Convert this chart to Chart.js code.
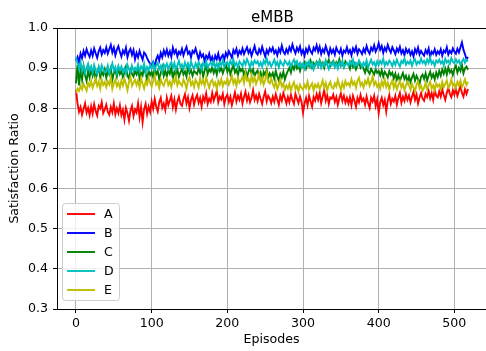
<!DOCTYPE html>
<html><head><meta charset="utf-8">
<script src="https://cdn.jsdelivr.net/npm/chart.js@4"></script>
<style>html,body{margin:0;padding:0;background:#fff;overflow:hidden}#wrap{width:486px;height:351px;position:relative}</style>
</head><body><div id="wrap"><canvas id="c" width="486" height="351"></canvas></div>
<script>
const seriesNames = ['A','B','C','D','E'];
const episodeStep = 2; // one sample every 2 episodes (0..518)
const xTicks = [0,100,200,300,400,500];
const yTicks = [0.3,0.4,0.5,0.6,0.7,0.8,0.9,1.0];
const chartTitle = 'eMBB';
const xLabel = 'Episodes';
const yLabel = 'Satisfaction Ratio';

const A = [
0.845,0.812,0.791,0.803,0.784,0.798,0.812,0.789,0.801,0.783,
0.805,0.787,0.810,0.793,0.782,0.806,0.799,0.815,0.788,0.797,
0.809,0.791,0.784,0.803,0.790,0.812,0.785,0.800,0.788,0.807,
0.783,0.796,0.772,0.801,0.788,0.769,0.794,0.806,0.781,0.797,
0.789,0.812,0.778,0.803,0.766,0.798,0.811,0.786,0.804,0.791,
0.817,0.799,0.823,0.804,0.792,0.815,0.826,0.801,0.812,0.796,
0.826,0.808,0.819,0.831,0.803,0.822,0.797,0.817,0.829,0.811,
0.806,0.823,0.835,0.812,0.827,0.801,0.821,0.832,0.809,0.824,
0.833,0.814,0.826,0.805,0.829,0.818,0.837,0.811,0.824,0.816,
0.838,0.819,0.831,0.843,0.815,0.829,0.822,0.836,0.811,0.827,
0.834,0.816,0.829,0.808,0.823,0.839,0.817,0.831,0.821,0.836,
0.812,0.828,0.841,0.819,0.833,0.815,0.826,0.845,0.821,0.832,
0.818,0.836,0.823,0.811,0.829,0.842,0.817,0.831,0.824,0.813,
0.829,0.816,0.835,0.822,0.809,0.831,0.819,0.838,0.826,0.812,
0.828,0.815,0.834,0.821,0.811,0.836,0.824,0.813,0.829,0.817,
0.789,0.812,0.826,0.808,0.831,0.817,0.804,0.828,0.819,0.835,
0.821,0.838,0.813,0.829,0.846,0.819,0.832,0.811,0.827,0.824,
0.834,0.816,0.828,0.809,0.825,0.837,0.818,0.831,0.814,0.826,
0.812,0.827,0.808,0.831,0.819,0.804,0.826,0.815,0.833,0.818,
0.824,0.809,0.829,0.813,0.801,0.826,0.817,0.831,0.806,0.822,
0.788,0.815,0.826,0.808,0.821,0.792,0.819,0.833,0.811,0.824,
0.817,0.831,0.809,0.826,0.838,0.814,0.829,0.818,0.835,0.821,
0.832,0.815,0.829,0.841,0.821,0.834,0.812,0.827,0.838,0.824,
0.819,0.836,0.828,0.843,0.825,0.838,0.821,0.846,0.831,0.827,
0.842,0.829,0.847,0.833,0.821,0.839,0.851,0.836,0.828,0.845,
0.834,0.849,0.831,0.843,0.856,0.838,0.829,0.847,0.836,0.848];
const B = [
0.919,0.928,0.914,0.936,0.925,0.943,0.931,0.947,0.936,0.928,
0.944,0.931,0.949,0.937,0.926,0.942,0.951,0.934,0.945,0.938,
0.952,0.936,0.947,0.958,0.939,0.951,0.932,0.946,0.955,0.941,
0.929,0.944,0.936,0.951,0.927,0.941,0.948,0.933,0.945,0.922,
0.938,0.927,0.943,0.931,0.921,0.939,0.934,0.925,0.917,0.911,
0.906,0.915,0.903,0.922,0.931,0.919,0.938,0.927,0.944,0.933,
0.946,0.931,0.942,0.928,0.951,0.937,0.945,0.929,0.941,0.935,
0.948,0.932,0.944,0.953,0.936,0.941,0.927,0.943,0.938,0.949,
0.935,0.922,0.939,0.928,0.934,0.917,0.931,0.924,0.936,0.919,
0.928,0.914,0.931,0.922,0.936,0.918,0.927,0.933,0.921,0.938,
0.929,0.942,0.934,0.926,0.945,0.937,0.948,0.931,0.943,0.936,
0.949,0.935,0.944,0.952,0.938,0.946,0.931,0.943,0.955,0.939,
0.934,0.947,0.938,0.953,0.941,0.929,0.945,0.936,0.949,0.942,
0.951,0.937,0.944,0.932,0.948,0.939,0.956,0.941,0.935,0.947,
0.938,0.952,0.943,0.959,0.946,0.937,0.951,0.942,0.954,0.936,
0.945,0.931,0.948,0.939,0.953,0.942,0.936,0.951,0.944,0.957,
0.941,0.953,0.935,0.947,0.939,0.955,0.943,0.932,0.949,0.938,
0.946,0.934,0.951,0.942,0.937,0.948,0.931,0.944,0.939,0.952,
0.938,0.945,0.932,0.949,0.941,0.953,0.936,0.947,0.942,0.935,
0.948,0.939,0.955,0.943,0.936,0.951,0.944,0.957,0.941,0.949,
0.962,0.946,0.955,0.938,0.951,0.943,0.958,0.947,0.939,0.952,
0.944,0.935,0.949,0.941,0.953,0.937,0.945,0.932,0.948,0.939,
0.946,0.933,0.942,0.929,0.947,0.938,0.951,0.934,0.943,0.936,
0.931,0.945,0.937,0.949,0.928,0.941,0.936,0.947,0.933,0.942,
0.936,0.947,0.931,0.944,0.939,0.952,0.934,0.943,0.937,0.949,
0.941,0.936,0.948,0.939,0.952,0.964,0.946,0.935,0.922,0.928];
const C = [
0.862,0.908,0.857,0.896,0.871,0.904,0.882,0.868,0.893,0.877,
0.899,0.881,0.894,0.872,0.889,0.902,0.878,0.891,0.883,0.897,
0.876,0.892,0.884,0.899,0.871,0.888,0.895,0.879,0.901,0.885,
0.893,0.878,0.889,0.903,0.881,0.874,0.896,0.886,0.879,0.892,
0.884,0.898,0.875,0.889,0.882,0.901,0.887,0.871,0.894,0.883,
0.891,0.877,0.899,0.885,0.893,0.872,0.888,0.902,0.881,0.894,
0.879,0.895,0.886,0.902,0.874,0.891,0.883,0.897,0.878,0.889,
0.898,0.884,0.892,0.879,0.905,0.887,0.895,0.881,0.893,0.889,
0.885,0.899,0.888,0.903,0.879,0.894,0.907,0.886,0.897,0.891,
0.902,0.888,0.899,0.884,0.906,0.893,0.901,0.887,0.898,0.909,
0.891,0.903,0.885,0.897,0.908,0.889,0.896,0.882,0.901,0.893,
0.899,0.883,0.894,0.879,0.891,0.902,0.886,0.897,0.881,0.889,
0.894,0.878,0.889,0.872,0.891,0.883,0.896,0.875,0.887,0.879,
0.888,0.874,0.893,0.879,0.869,0.886,0.877,0.891,0.872,0.884,
0.893,0.901,0.889,0.906,0.897,0.911,0.899,0.906,0.893,0.908,
0.903,0.914,0.899,0.911,0.905,0.918,0.902,0.913,0.907,0.916,
0.906,0.919,0.908,0.914,0.901,0.917,0.911,0.921,0.905,0.913,
0.918,0.904,0.915,0.909,0.922,0.906,0.913,0.903,0.917,0.911,
0.909,0.898,0.914,0.903,0.911,0.897,0.906,0.915,0.901,0.908,
0.899,0.889,0.903,0.892,0.886,0.898,0.891,0.884,0.897,0.888,
0.893,0.882,0.895,0.879,0.891,0.885,0.877,0.892,0.883,0.889,
0.874,0.886,0.871,0.882,0.868,0.879,0.888,0.873,0.881,0.866,
0.879,0.865,0.877,0.886,0.869,0.881,0.872,0.861,0.878,0.884,
0.873,0.887,0.869,0.881,0.891,0.876,0.885,0.872,0.889,0.878,
0.893,0.881,0.897,0.886,0.899,0.884,0.902,0.889,0.895,0.883,
0.898,0.906,0.889,0.901,0.893,0.908,0.887,0.899,0.904,0.896];
const D = [
0.927,0.912,0.899,0.915,0.893,0.906,0.888,0.901,0.911,0.894,
0.903,0.889,0.908,0.895,0.886,0.902,0.891,0.907,0.897,0.889,
0.892,0.906,0.887,0.899,0.912,0.894,0.903,0.888,0.905,0.896,
0.904,0.891,0.899,0.886,0.908,0.897,0.889,0.906,0.893,0.901,
0.895,0.909,0.892,0.904,0.897,0.911,0.889,0.903,0.896,0.908,
0.899,0.912,0.895,0.907,0.913,0.898,0.906,0.891,0.909,0.902,
0.911,0.897,0.908,0.915,0.901,0.913,0.896,0.907,0.918,0.903,
0.909,0.898,0.914,0.903,0.911,0.897,0.916,0.905,0.899,0.912,
0.903,0.915,0.907,0.896,0.912,0.904,0.918,0.901,0.909,0.914,
0.906,0.917,0.902,0.911,0.899,0.914,0.907,0.919,0.903,0.912,
0.915,0.904,0.918,0.909,0.921,0.906,0.913,0.902,0.917,0.911,
0.905,0.918,0.909,0.922,0.913,0.901,0.916,0.908,0.919,0.912,
0.917,0.906,0.914,0.903,0.919,0.911,0.924,0.909,0.915,0.904,
0.912,0.921,0.907,0.915,0.902,0.918,0.911,0.906,0.919,0.913,
0.908,0.916,0.903,0.914,0.921,0.909,0.917,0.905,0.913,0.902,
0.911,0.899,0.914,0.906,0.917,0.903,0.912,0.897,0.909,0.915,
0.904,0.916,0.901,0.912,0.906,0.919,0.908,0.898,0.913,0.907,
0.915,0.903,0.911,0.899,0.914,0.906,0.918,0.902,0.909,0.913,
0.906,0.917,0.909,0.921,0.904,0.913,0.908,0.919,0.911,0.903,
0.914,0.907,0.919,0.902,0.912,0.921,0.909,0.915,0.904,0.917,
0.908,0.918,0.911,0.923,0.906,0.915,0.909,0.919,0.913,0.905,
0.917,0.908,0.921,0.912,0.904,0.918,0.913,0.924,0.909,0.916,
0.911,0.919,0.906,0.917,0.922,0.909,0.916,0.912,0.924,0.913,
0.918,0.909,0.921,0.913,0.926,0.911,0.917,0.906,0.919,0.914,
0.921,0.912,0.918,0.907,0.923,0.914,0.919,0.911,0.925,0.916,
0.912,0.922,0.914,0.919,0.908,0.917,0.923,0.913,0.921,0.917];
const E = [
0.838,0.849,0.843,0.856,0.847,0.861,0.852,0.844,0.863,0.855,
0.868,0.851,0.862,0.874,0.856,0.866,0.849,0.871,0.858,0.865,
0.853,0.867,0.859,0.876,0.848,0.862,0.871,0.855,0.864,0.851,
0.869,0.857,0.873,0.861,0.845,0.866,0.878,0.856,0.864,0.871,
0.858,0.869,0.852,0.874,0.861,0.849,0.867,0.859,0.876,0.863,
0.854,0.868,0.881,0.859,0.866,0.851,0.872,0.862,0.856,0.869,
0.875,0.858,0.866,0.853,0.871,0.864,0.879,0.857,0.868,0.861,
0.856,0.872,0.863,0.849,0.869,0.877,0.858,0.866,0.853,0.871,
0.864,0.852,0.875,0.861,0.869,0.856,0.878,0.863,0.851,0.866,
0.871,0.857,0.864,0.849,0.868,0.859,0.873,0.855,0.866,0.861,
0.874,0.859,0.868,0.881,0.862,0.871,0.856,0.876,0.864,0.869,
0.878,0.863,0.887,0.869,0.874,0.858,0.882,0.866,0.876,0.861,
0.872,0.885,0.864,0.876,0.859,0.871,0.888,0.866,0.862,0.874,
0.861,0.852,0.867,0.848,0.859,0.871,0.854,0.862,0.846,0.857,
0.849,0.861,0.844,0.857,0.865,0.848,0.856,0.842,0.859,0.851,
0.846,0.858,0.851,0.866,0.847,0.855,0.862,0.844,0.859,0.852,
0.861,0.848,0.857,0.869,0.851,0.863,0.845,0.858,0.866,0.852,
0.849,0.862,0.854,0.871,0.857,0.846,0.863,0.851,0.868,0.858,
0.863,0.855,0.872,0.859,0.866,0.851,0.869,0.876,0.857,0.864,
0.852,0.868,0.861,0.874,0.856,0.865,0.879,0.858,0.866,0.854,
0.862,0.849,0.867,0.856,0.871,0.853,0.864,0.847,0.861,0.869,
0.851,0.864,0.847,0.859,0.868,0.852,0.861,0.845,0.857,0.866,
0.858,0.846,0.861,0.852,0.842,0.859,0.867,0.849,0.856,0.844,
0.851,0.863,0.847,0.858,0.866,0.849,0.857,0.845,0.862,0.854,
0.859,0.848,0.866,0.853,0.861,0.869,0.851,0.857,0.872,0.856,
0.862,0.851,0.866,0.857,0.869,0.853,0.861,0.872,0.858,0.866];

const seriesValues = [A,B,C,D,E];
const colors = ['#ff0000','#0000ff','#008000','#00bfbf','#bfbf00'];
const FONT = 'DejaVu Sans';

const datasets = seriesValues.map((vals,k)=>({
  label: seriesNames[k],
  data: vals.map((v,i)=>({x: i*episodeStep, y: v})),
  borderColor: colors[k],
  backgroundColor: colors[k],
  borderWidth: 1.9,
  pointRadius: 0,
  fill: false,
  tension: 0,
  order: seriesNames.length - 1 - k
}));

const extras = {
  id: 'extras',
  afterDraw(chart){
    const ctx = chart.ctx, ca = chart.chartArea;
    ctx.save();
    ctx.strokeStyle = '#000'; ctx.lineWidth = 1;
    ctx.beginPath(); ctx.moveTo(ca.left, ca.top+0.5); ctx.lineTo(ca.right, ca.top+0.5); ctx.stroke();
    ctx.fillStyle = '#000';
    ctx.font = '15px "' + FONT + '"';
    ctx.textAlign = 'center'; ctx.textBaseline = 'alphabetic';
    ctx.fillText(chartTitle, 272.5, 22);
    const bx = 62.5, by = 203.5, bw = 57, bh = 97, r = 3;
    ctx.beginPath();
    ctx.moveTo(bx+r, by); ctx.lineTo(bx+bw-r, by); ctx.quadraticCurveTo(bx+bw, by, bx+bw, by+r);
    ctx.lineTo(bx+bw, by+bh-r); ctx.quadraticCurveTo(bx+bw, by+bh, bx+bw-r, by+bh);
    ctx.lineTo(bx+r, by+bh); ctx.quadraticCurveTo(bx, by+bh, bx, by+bh-r);
    ctx.lineTo(bx, by+r); ctx.quadraticCurveTo(bx, by, bx+r, by);
    ctx.closePath();
    ctx.fillStyle = 'rgba(255,255,255,0.8)'; ctx.fill();
    ctx.strokeStyle = '#cccccc'; ctx.lineWidth = 1; ctx.stroke();
    ctx.font = '12.6px "' + FONT + '"';
    ctx.textAlign = 'left'; ctx.textBaseline = 'middle';
    seriesNames.forEach((n,k)=>{
      const y = 214 + k*19;
      ctx.strokeStyle = colors[k]; ctx.lineWidth = 1.9;
      ctx.beginPath(); ctx.moveTo(67, y); ctx.lineTo(95, y); ctx.stroke();
      ctx.fillStyle = '#000';
      ctx.fillText(n, 104, y+1);
    });
    ctx.restore();
  }
};

new Chart(document.getElementById('c'), {
  type: 'line',
  data: { datasets },
  options: {
    responsive: false,
    animation: false,
    devicePixelRatio: 1,
    layout: { padding: { top: 28, left: 0, right: 0, bottom: 0 } },
    plugins: { legend: { display: false }, title: { display: false }, tooltip: { enabled: false } },
    scales: {
      x: {
        type: 'linear',
        min: -25.1, max: 541.8,
        afterBuildTicks: s => { s.ticks = xTicks.map(v=>({value:v})); },
        afterFit: s => { s.height = 42; },
        ticks: { color: '#000', font: { family: FONT, size: 12.6 }, padding: 3, maxRotation: 0, autoSkip: false,
                 callback: v => String(v) },
        grid: { color: '#b0b0b0', lineWidth: 1, drawTicks: true, tickLength: 4, tickColor: '#000', tickWidth: 1 },
        border: { display: true, color: '#000', width: 1 },
        title: { display: true, text: xLabel, color: '#000', font: { family: FONT, size: 12.6 }, padding: { top: 0, bottom: 4 } }
      },
      y: {
        type: 'linear',
        min: 0.3, max: 1.0,
        afterBuildTicks: s => { s.ticks = yTicks.map(v=>({value:v})); },
        afterFit: s => { s.width = 57; },
        ticks: { color: '#000', font: { family: FONT, size: 12.6 }, padding: 5, autoSkip: false,
                 callback: v => Number(v).toFixed(1) },
        grid: { color: '#b0b0b0', lineWidth: 1, drawTicks: true, tickLength: 4, tickColor: '#000', tickWidth: 1 },
        border: { display: true, color: '#000', width: 1 },
        title: { display: true, text: yLabel, color: '#000', font: { family: FONT, size: 12.6 }, padding: { top: 7, bottom: 0 } }
      }
    }
  },
  plugins: [extras]
});
</script>
</body></html>
